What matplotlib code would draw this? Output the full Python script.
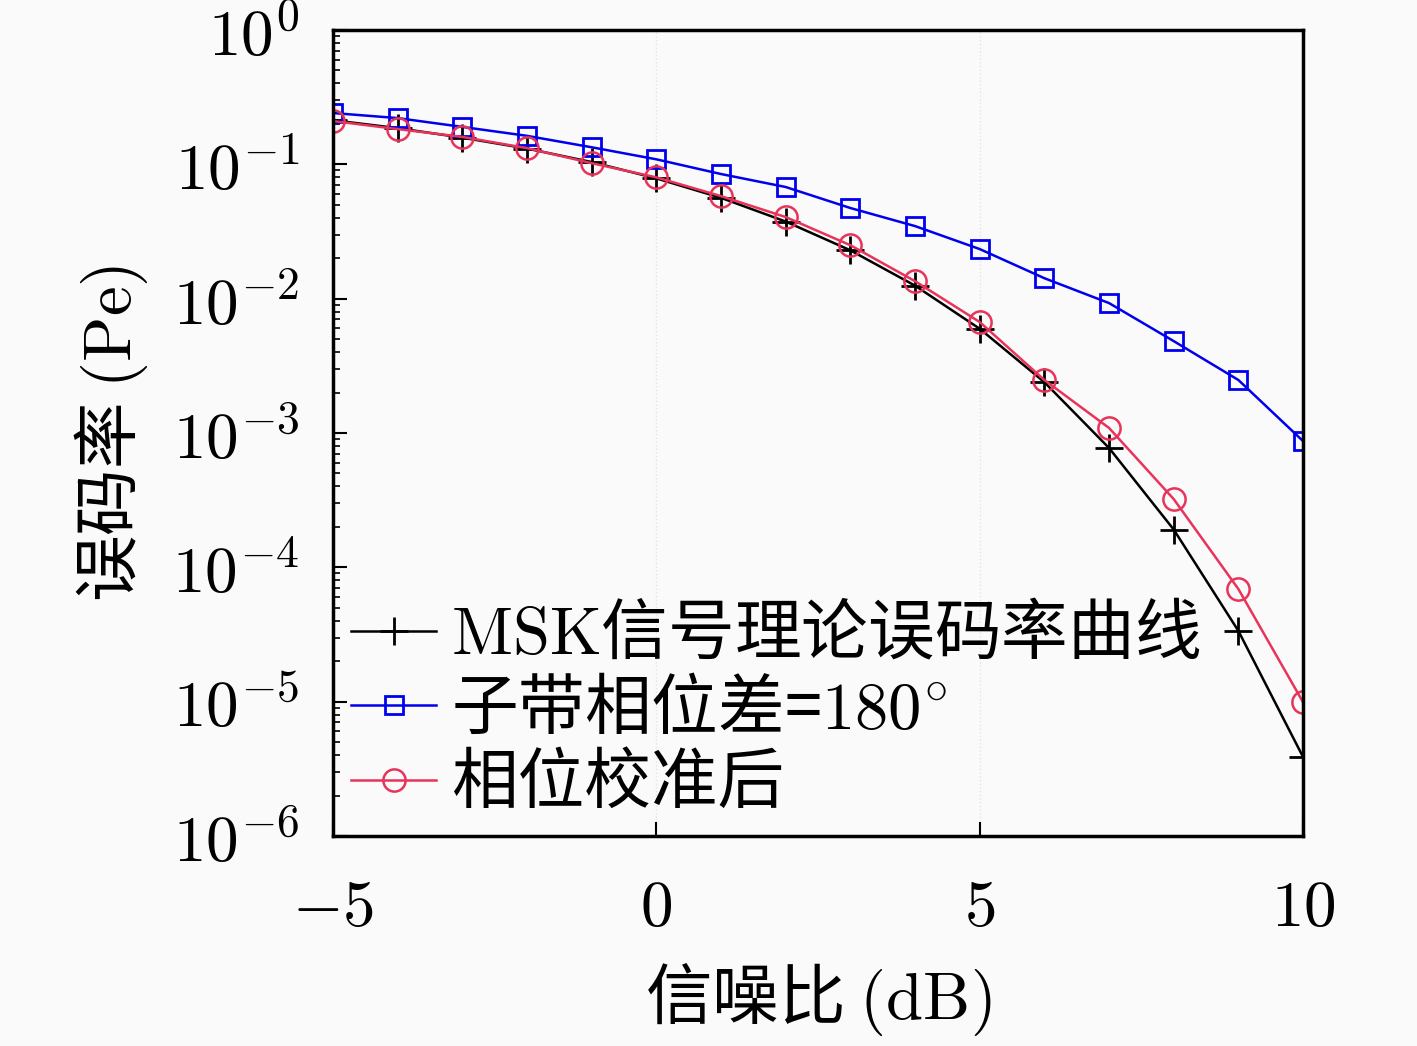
import numpy as np
import matplotlib
matplotlib.use('Agg')
import matplotlib.pyplot as plt
from matplotlib.ticker import LogLocator, NullFormatter

plt.rcParams['font.family'] = ['Noto Sans CJK SC', 'DejaVu Sans']
plt.rcParams['mathtext.fontset'] = 'cm'
plt.rcParams['axes.unicode_minus'] = True

# Data
snr = [-5, -4, -3, -2, -1, 0, 1, 2, 3, 4, 5, 6, 7, 8, 9, 10]
pe_theory = [0.213, 0.186, 0.158, 0.131, 0.104, 0.0786, 0.0563, 0.0375, 0.0229,
             0.0125, 0.00597, 0.00239, 7.73e-4, 1.91e-4, 3.36e-5, 3.87e-6]
pe_180 = [0.241, 0.221, 0.19, 0.163, 0.134, 0.109, 0.0847, 0.0678, 0.0473,
          0.0347, 0.0234, 0.0142, 0.00927, 0.00483, 0.00248, 8.7e-4]
pe_cal = [0.21, 0.183, 0.16, 0.132, 0.102, 0.080, 0.058, 0.0405, 0.025,
          0.0135, 0.0067, 0.00248, 0.00109, 3.22e-4, 6.89e-5, 9.9e-6]

labels = ['$\\mathrm{MSK}$信号理论误码率曲线', '子带相位差=$180^{\\circ}$', '相位校准后']
xticks = [-5, 0, 5, 10]
yticks = [1e-6, 1e-5, 1e-4, 1e-3, 1e-2, 1e-1, 1e0]

fig = plt.figure(figsize=(14.17, 10.46), dpi=100)
fig.patch.set_facecolor('#fafafa')
ax = fig.add_axes([0.235, 0.2008, 0.6846, 0.7705])
ax.set_facecolor('#fafafa')

ax.semilogy(snr, pe_theory, '-', color='black', lw=1.8, marker='+', ms=20, mew=2, label=labels[0])
ax.semilogy(snr, pe_180, '-', color='#0000ee', lw=1.8, marker='s', ms=13, mfc='none', mew=2, label=labels[1])
ax.semilogy(snr, pe_cal, '-', color='#e8335a', lw=1.8, marker='o', ms=16, mfc='none', mew=1.8, label=labels[2])

ax.set_xlim(-5, 10)
ax.set_ylim(1e-6, 1e0)
ax.set_xticks(xticks)
ax.set_xticklabels(['$%d$' % t for t in xticks])
ax.set_yticks(yticks)
ax.set_yticklabels(['$10^{%d}$' % int(np.log10(t)) for t in yticks])
ax.yaxis.set_minor_locator(LogLocator(base=10, subs=np.arange(2, 10)))
ax.yaxis.set_minor_formatter(NullFormatter())

ax.tick_params(axis='both', which='major', direction='in', labelsize=47, length=10, width=1.5,
               top=False, right=False)
ax.tick_params(axis='x', which='major', pad=28)
ax.tick_params(axis='y', which='major', pad=24)
ax.tick_params(axis='y', which='minor', direction='in', length=5, width=1.2, right=False)
ax.xaxis.grid(True, color='#e4e4e4', linestyle=':', lw=1)
for s in ax.spines.values():
    s.set_linewidth(2.5)

ax.set_xlabel('信噪比 $\\mathrm{(dB)}$', fontsize=48, labelpad=14)
ax.set_ylabel('误码率 $\\mathrm{(Pe)}$', fontsize=48, labelpad=16)

leg = ax.legend(loc='lower left', bbox_to_anchor=(0.0, 0.0), frameon=False, fontsize=48,
                handlelength=1.28, handletextpad=0.22, labelspacing=0.1,
                borderaxespad=0.0, borderpad=0.27)

fig.savefig('out.png', dpi=100, facecolor=fig.get_facecolor())
